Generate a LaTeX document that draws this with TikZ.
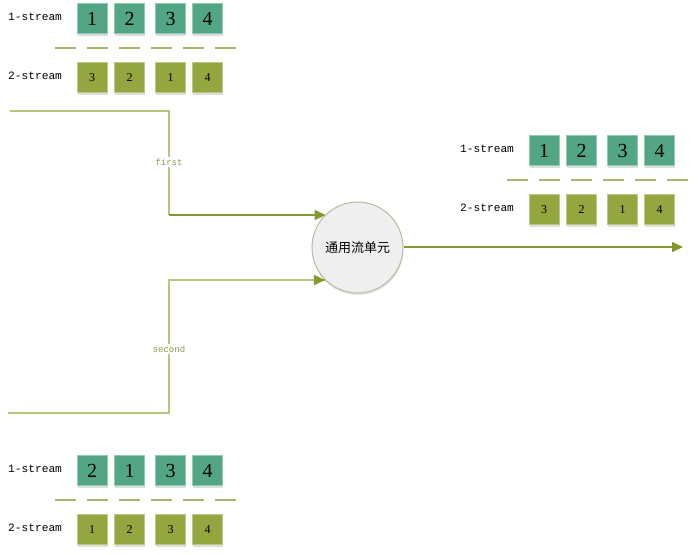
\documentclass[tikz,border=0pt]{standalone}
\usepackage{fontspec}
\setmainfont{Liberation Serif}
\newfontfamily\monof{Liberation Mono}
\newfontfamily\cjk{Noto Sans CJK SC}
\usetikzlibrary{arrows.meta,shadows,calc}
\definecolor{tealbox}{HTML}{52A685}
\definecolor{tealedge}{HTML}{8FCBB2}
\definecolor{olivebox}{HTML}{94A640}
\definecolor{oliveedge}{HTML}{BCC985}
\definecolor{dashcol}{HTML}{AAB66C}
\definecolor{linelight}{HTML}{B7C37E}
\definecolor{linedark}{HTML}{82992E}
\definecolor{labcol}{HTML}{8C9A48}
\definecolor{circfill}{HTML}{EFEFEF}
\definecolor{circedge}{HTML}{B8BBA0}
\tikzset{
  boxbase/.style={minimum size=30pt, inner sep=0pt, line width=1pt,
    drop shadow={shadow xshift=0.5pt, shadow yshift=-2pt, opacity=0.22, fill=black!60}},
  tealsq/.style={boxbase, fill=tealbox, draw=tealedge, font=\fontsize{20}{22}\selectfont},
  olivesq/.style={boxbase, fill=olivebox, draw=oliveedge, font=\fontsize{12}{14}\selectfont},
  streamlab/.style={anchor=west, inner sep=0pt, font=\monof\fontsize{11.2}{13}\selectfont},
  dashseg/.style={draw=dashcol, line width=1.8pt},
  lightline/.style={draw=linelight, line width=1.6pt},
  darkline/.style={draw=linedark, line width=1.6pt},
  tip/.style={-{Triangle[length=11pt,width=10pt]}},
  edgelab/.style={fill=white, inner sep=1.5pt, text=labcol, font=\monof\fontsize{9}{10}\selectfont},
  unit/.style={circle, minimum size=91pt, inner sep=0pt, fill=circfill, draw=circedge, line width=1pt,
    drop shadow={shadow xshift=0.5pt, shadow yshift=-2pt, opacity=0.18, fill=black!60},
    font=\cjk\fontsize{13}{15}\selectfont}
}
\newcommand{\streamgroup}[3]{%
  \node[streamlab] (l1) at (8,17) {1-stream};
  \node[streamlab] (l2) at (8,76) {2-stream};
  \foreach \d [count=\i] in {#2} {
    \pgfmathsetmacro{\bx}{{92,129.5,170.5,207.5}[\i-1]}
    \node[tealsq] (a\i) at (\bx,18.5) {\d};
  }
  \foreach \d [count=\i] in {#3} {
    \pgfmathsetmacro{\bx}{{92,129.5,170.5,207.5}[\i-1]}
    \node[olivesq] (b\i) at (\bx,77.5) {\d};
  }
  \foreach \k in {0,...,5} {
    \coordinate (d\k s) at (55+32*\k,48);
    \coordinate (d\k e) at (76+32*\k,48);
    \draw[dashseg] (d\k s) -- (d\k e);
  }
}
\begin{document}
\begin{tikzpicture}[x=1pt,y=-1pt]
\useasboundingbox (0,0) rectangle (698,554);
\fill[white] (0,0) rectangle (698,554);

\begin{scope}[name prefix=top-]
  \streamgroup{}{1,2,3,4}{3,2,1,4}
\end{scope}
\begin{scope}[shift={(452,132)}, name prefix=right-]
  \streamgroup{}{1,2,3,4}{3,2,1,4}
\end{scope}
\begin{scope}[shift={(0,452)}, name prefix=bot-]
  \streamgroup{}{2,1,3,4}{1,2,3,4}
\end{scope}

\node[unit] (circ) at (357.5,247.5) {通用流单元};

% first input
\coordinate (f0) at (10,111);
\coordinate (f1) at (169,111);
\coordinate (f2) at (169,215);
\draw[lightline] (f0) -- (f1) -- (f2);
\draw[darkline, tip] (f2) -- (f2 -| circ.134.4);
\node[edgelab] (firstlab) at (169,162) {first};

% second input
\coordinate (s0) at (8,413);
\coordinate (s1) at (169,413);
\coordinate (s2) at (169,280);
\coordinate (s3) at (s2 -| circ.225.6);
\draw[lightline] (s0) -- (s1) -- (s2) -- (s3);
\coordinate (s3b) at ($(s3)+(-1,0)$);
\draw[darkline, tip] (s3b) -- (s3);
\node[edgelab] (secondlab) at (169,349) {second};

% output
\coordinate (out) at (683,247);
\draw[darkline, tip] (circ.east |- out) -- (out);
\end{tikzpicture}
\end{document}
